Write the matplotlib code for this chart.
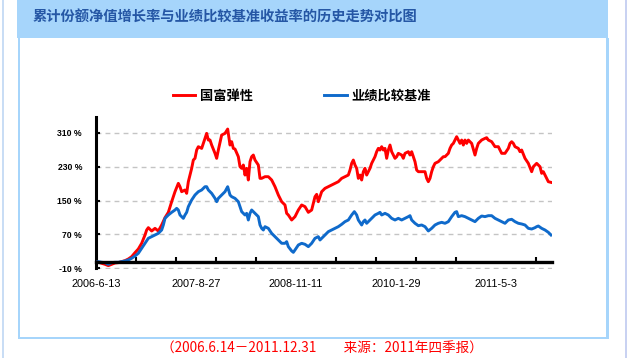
import matplotlib
matplotlib.use("Agg")
import matplotlib.pyplot as plt
from matplotlib.patches import Rectangle

plt.rcParams['font.family'] = ['Noto Sans CJK SC', 'DejaVu Sans']

TITLE = "累计份额净值增长率与业绩比较基准收益率的历史走势对比图"
FUND_NAME = "国富弹性"
BENCH_NAME = "业绩比较基准"
NOTE = "（2006.6.14－2011.12.31　　来源：2011年四季报）"

# x axis is trading day count since 2006-6-13
date_labels = ["2006-6-13", "2007-8-27", "2008-11-11", "2010-1-29", "2011-5-3"]
date_label_days = [0, 300, 600, 900, 1200]
y_ticks = [-10, 70, 150, 230, 310]

fund_days = [0, 7, 17, 27, 37, 47, 57, 67, 77, 87, 97, 107, 117, 127, 137, 147, 152, 157, 167, 177,
             187, 197, 207, 217, 227, 237, 247, 252, 257, 267, 272, 277, 287, 292, 297, 302, 307, 317,
             327, 332, 337, 342, 347, 357, 362, 367, 377, 387, 395, 402, 407, 412, 417, 427, 432, 437,
             442, 447, 452, 457, 462, 467, 472, 477, 487, 492, 497, 507, 517, 527, 537, 547, 557, 567,
             572, 577, 587, 592, 597, 607, 617, 627, 637, 647, 657, 662, 667, 677, 687, 697, 707, 717,
             727, 737, 747, 757, 762, 767, 772, 777, 782, 787, 792, 797, 802, 807, 812, 817, 822, 827,
             837, 842, 847, 852, 857, 862, 867, 872, 877, 882, 887, 892, 897, 902, 907, 917, 922, 927,
             937, 942, 947, 957, 962, 967, 977, 987, 992, 997, 1002, 1007, 1012, 1017, 1027, 1037, 1042,
             1047, 1057, 1062, 1067, 1072, 1077, 1082, 1087, 1092, 1097, 1102, 1107, 1112, 1117, 1127,
             1137, 1142, 1147, 1157, 1167, 1172, 1177, 1187, 1197, 1207, 1217, 1227, 1237, 1242, 1247,
             1252, 1257, 1267, 1272, 1277, 1287, 1297, 1307, 1312, 1317, 1322, 1332, 1337, 1342, 1352,
             1357, 1365]
fund_pct = [4.2, 4.2, 1.8, -0.6, -3.7, -0.6, 2.6, 3.4, 5.7, 8.1, 12.0, 17.5, 26.9, 35.6, 49.0, 68.6,
            80.4, 85.9, 78.0, 84.3, 78.0, 92.2, 109.5, 122.1, 147.2, 170.8, 190.5, 182.6, 170.8, 174.8,
            166.9, 194.4, 225.9, 245.5, 249.5, 269.1, 277.0, 273.0, 296.6, 308.4, 292.7, 292.7, 280.9,
            261.3, 249.5, 269.1, 304.5, 308.4, 318.6, 280.9, 288.8, 273.0, 271.5, 253.4, 229.8, 225.9,
            233.7, 210.1, 225.9, 198.4, 241.6, 253.4, 257.3, 245.5, 233.7, 202.3, 202.3, 206.2, 206.2,
            198.4, 182.6, 163.0, 147.2, 139.4, 119.7, 115.8, 104.0, 107.9, 111.9, 127.6, 139.4, 135.5,
            122.1, 127.6, 159.0, 164.5, 147.2, 170.8, 178.7, 182.6, 186.6, 190.5, 194.4, 202.3, 206.2,
            210.1, 221.9, 237.7, 245.5, 233.7, 225.9, 202.3, 210.1, 198.4, 218.0, 225.9, 210.1, 218.0,
            225.9, 237.7, 253.4, 265.2, 273.0, 269.1, 277.0, 269.1, 273.0, 249.5, 269.1, 280.9, 265.2,
            257.3, 249.5, 253.4, 261.3, 257.3, 249.5, 261.3, 265.2, 257.3, 265.2, 241.6, 221.9, 218.0,
            218.0, 218.0, 202.3, 194.4, 202.3, 218.0, 229.8, 237.7, 241.6, 249.5, 253.4, 253.4, 261.3,
            273.0, 280.9, 284.8, 292.7, 300.6, 292.7, 284.8, 292.7, 280.9, 292.7, 284.8, 292.7, 284.8,
            257.3, 273.0, 284.8, 292.7, 296.6, 298.2, 292.7, 288.8, 277.0, 277.0, 261.3, 261.3, 273.0,
            284.8, 288.8, 284.8, 277.0, 273.0, 265.2, 269.1, 249.5, 237.7, 218.0, 229.8, 233.7, 237.7,
            229.8, 214.1, 218.0, 202.3, 194.4, 192.8]

bench_days = [0, 7, 17, 27, 37, 47, 57, 67, 77, 87, 97, 107, 117, 127, 137, 147, 157, 167, 177, 187,
              197, 202, 207, 217, 227, 237, 242, 247, 252, 257, 262, 267, 272, 277, 287, 297, 307, 317,
              327, 332, 337, 342, 347, 357, 362, 367, 377, 387, 395, 402, 407, 417, 427, 432, 437, 442,
              447, 452, 457, 462, 467, 477, 482, 487, 492, 497, 502, 507, 517, 527, 537, 547, 557, 567,
              572, 577, 587, 592, 597, 607, 617, 627, 637, 647, 657, 667, 672, 677, 687, 697, 707, 717,
              727, 737, 747, 757, 767, 775, 782, 787, 797, 802, 807, 812, 817, 827, 837, 847, 852, 857,
              867, 877, 887, 897, 907, 917, 927, 937, 942, 947, 957, 967, 977, 987, 997, 1007, 1017,
              1027, 1037, 1047, 1057, 1067, 1077, 1082, 1087, 1097, 1107, 1117, 1127, 1137, 1147, 1157,
              1167, 1177, 1187, 1197, 1207, 1217, 1227, 1237, 1247, 1257, 1267, 1277, 1287, 1297, 1307,
              1317, 1322, 1327, 1337, 1347, 1357, 1365]
bench_pct = [4.2, 5.7, 4.2, 3.4, -0.6, 3.4, 4.2, 4.2, 5.7, 7.3, 9.7, 13.6, 19.1, 25.4, 37.2, 49.0,
             60.8, 64.7, 68.6, 72.5, 80.4, 92.2, 107.9, 115.8, 122.1, 127.6, 131.5, 127.6, 115.8, 111.9,
             107.9, 115.8, 122.1, 135.5, 151.2, 163.0, 170.8, 174.8, 182.6, 182.6, 174.8, 170.8, 166.9,
             155.1, 147.2, 155.1, 163.0, 170.8, 182.6, 163.0, 159.0, 155.1, 147.2, 135.5, 123.7, 119.7,
             115.8, 119.7, 104.0, 119.7, 127.6, 119.7, 115.8, 111.9, 92.2, 84.3, 80.4, 88.3, 84.3, 72.5,
             64.7, 56.8, 49.0, 49.0, 52.9, 41.1, 30.9, 27.7, 33.3, 45.0, 49.0, 46.6, 41.1, 49.0, 60.8,
             64.7, 56.8, 60.8, 68.6, 76.5, 80.4, 84.3, 88.3, 93.8, 100.1, 104.0, 115.8, 123.7, 115.8,
             104.0, 92.2, 100.1, 104.0, 96.2, 100.1, 107.9, 115.8, 119.7, 122.1, 115.8, 119.7, 115.8,
             107.9, 104.0, 107.9, 104.0, 107.9, 111.9, 114.2, 104.0, 96.2, 90.6, 92.2, 88.3, 78.1, 84.3,
             92.2, 96.2, 98.5, 96.2, 100.1, 111.9, 122.1, 123.7, 111.9, 114.2, 111.9, 107.9, 104.0,
             100.1, 107.9, 113.4, 111.9, 114.2, 114.2, 107.9, 104.0, 100.1, 96.2, 104.0, 105.6, 100.1,
             96.2, 94.6, 92.2, 84.3, 82.7, 85.9, 88.3, 89.8, 84.3, 80.4, 74.9, 68.6]

W, H = 630, 358
fig = plt.figure(figsize=(W / 100, H / 100), dpi=100)
fig.patch.set_facecolor('white')

# page frame drawn in pixel coordinates
bg = fig.add_axes([0, 0, 1, 1])
bg.set_xlim(0, W)
bg.set_ylim(H, 0)
bg.axis('off')
frame_blue = '#A6D5FB'
bg.add_patch(Rectangle((2, 0), 2, H, color='#C9DDF5', lw=0))
bg.add_patch(Rectangle((625, 0), 2, H, color='#C9D2F2', lw=0))
bg.add_patch(Rectangle((17, 0), 591, 38, color=frame_blue, lw=0))
bg.add_patch(Rectangle((17.5, 38), 2.5, 301, color=frame_blue, lw=0))
bg.add_patch(Rectangle((606, 38), 2.5, 301, color=frame_blue, lw=0))
bg.add_patch(Rectangle((17.5, 336.5), 591, 2.5, color=frame_blue, lw=0))
bg.text(33, 18, TITLE, fontsize=10.3, fontweight='bold', color='#2557A5', va='center', ha='left')
bg.text(322, 349, NOTE, fontsize=9.8, color='#FF0000', va='center', ha='center')

ax = fig.add_axes([96 / W, (H - 269.15) / H, 456 / W, 152.55 / H])
ax.set_xlim(0, 1368)
ax.set_ylim(-12, 348)

ax.plot(fund_days, fund_pct, color='#FF0000', lw=2.1, label=FUND_NAME, zorder=3)
ax.plot(bench_days, bench_pct, color='#0F6ACB', lw=2.1, label=BENCH_NAME, zorder=3)

for v in y_ticks:
    ax.axhline(v, color='#C4C4C4', lw=1.0, ls=(0, (3.5, 3)), zorder=1)

for side in ['top', 'right']:
    ax.spines[side].set_visible(False)
ax.spines['left'].set_linewidth(2.2)
ax.spines['left'].set_bounds(-10, 348)
ax.spines['bottom'].set_linewidth(2.4)
ax.spines['bottom'].set_position(('data', 4))
ax.spines['bottom'].set_zorder(4)

ax.set_yticks(y_ticks)
ax.set_yticklabels([f"{v} %" for v in y_ticks], fontsize=6.2, fontweight='bold',
                   family=['Liberation Sans Narrow', 'Liberation Sans'])
ax.tick_params(axis='y', direction='in', length=3, width=1.5, pad=10)

ax.set_xticks(date_label_days)
ax.set_xticklabels(date_labels, fontsize=7.8, family=['Liberation Sans', 'DejaVu Sans'])
ax.set_xticks(list(range(120, 1321, 120)), minor=True)
ax.tick_params(axis='x', which='major', length=0, pad=12)
ax.tick_params(axis='x', which='minor', direction='in', length=3.5, width=1.5)

leg = ax.legend(loc='center left', bbox_to_anchor=(173 / W, (H - 96) / H),
                bbox_transform=fig.transFigure, ncol=2, frameon=False,
                handlelength=1.7, handletextpad=0.35, columnspacing=5.4,
                borderpad=0, borderaxespad=0,
                prop={'size': 9.5, 'weight': 'bold'})

fig.savefig('out.png', dpi=100)
